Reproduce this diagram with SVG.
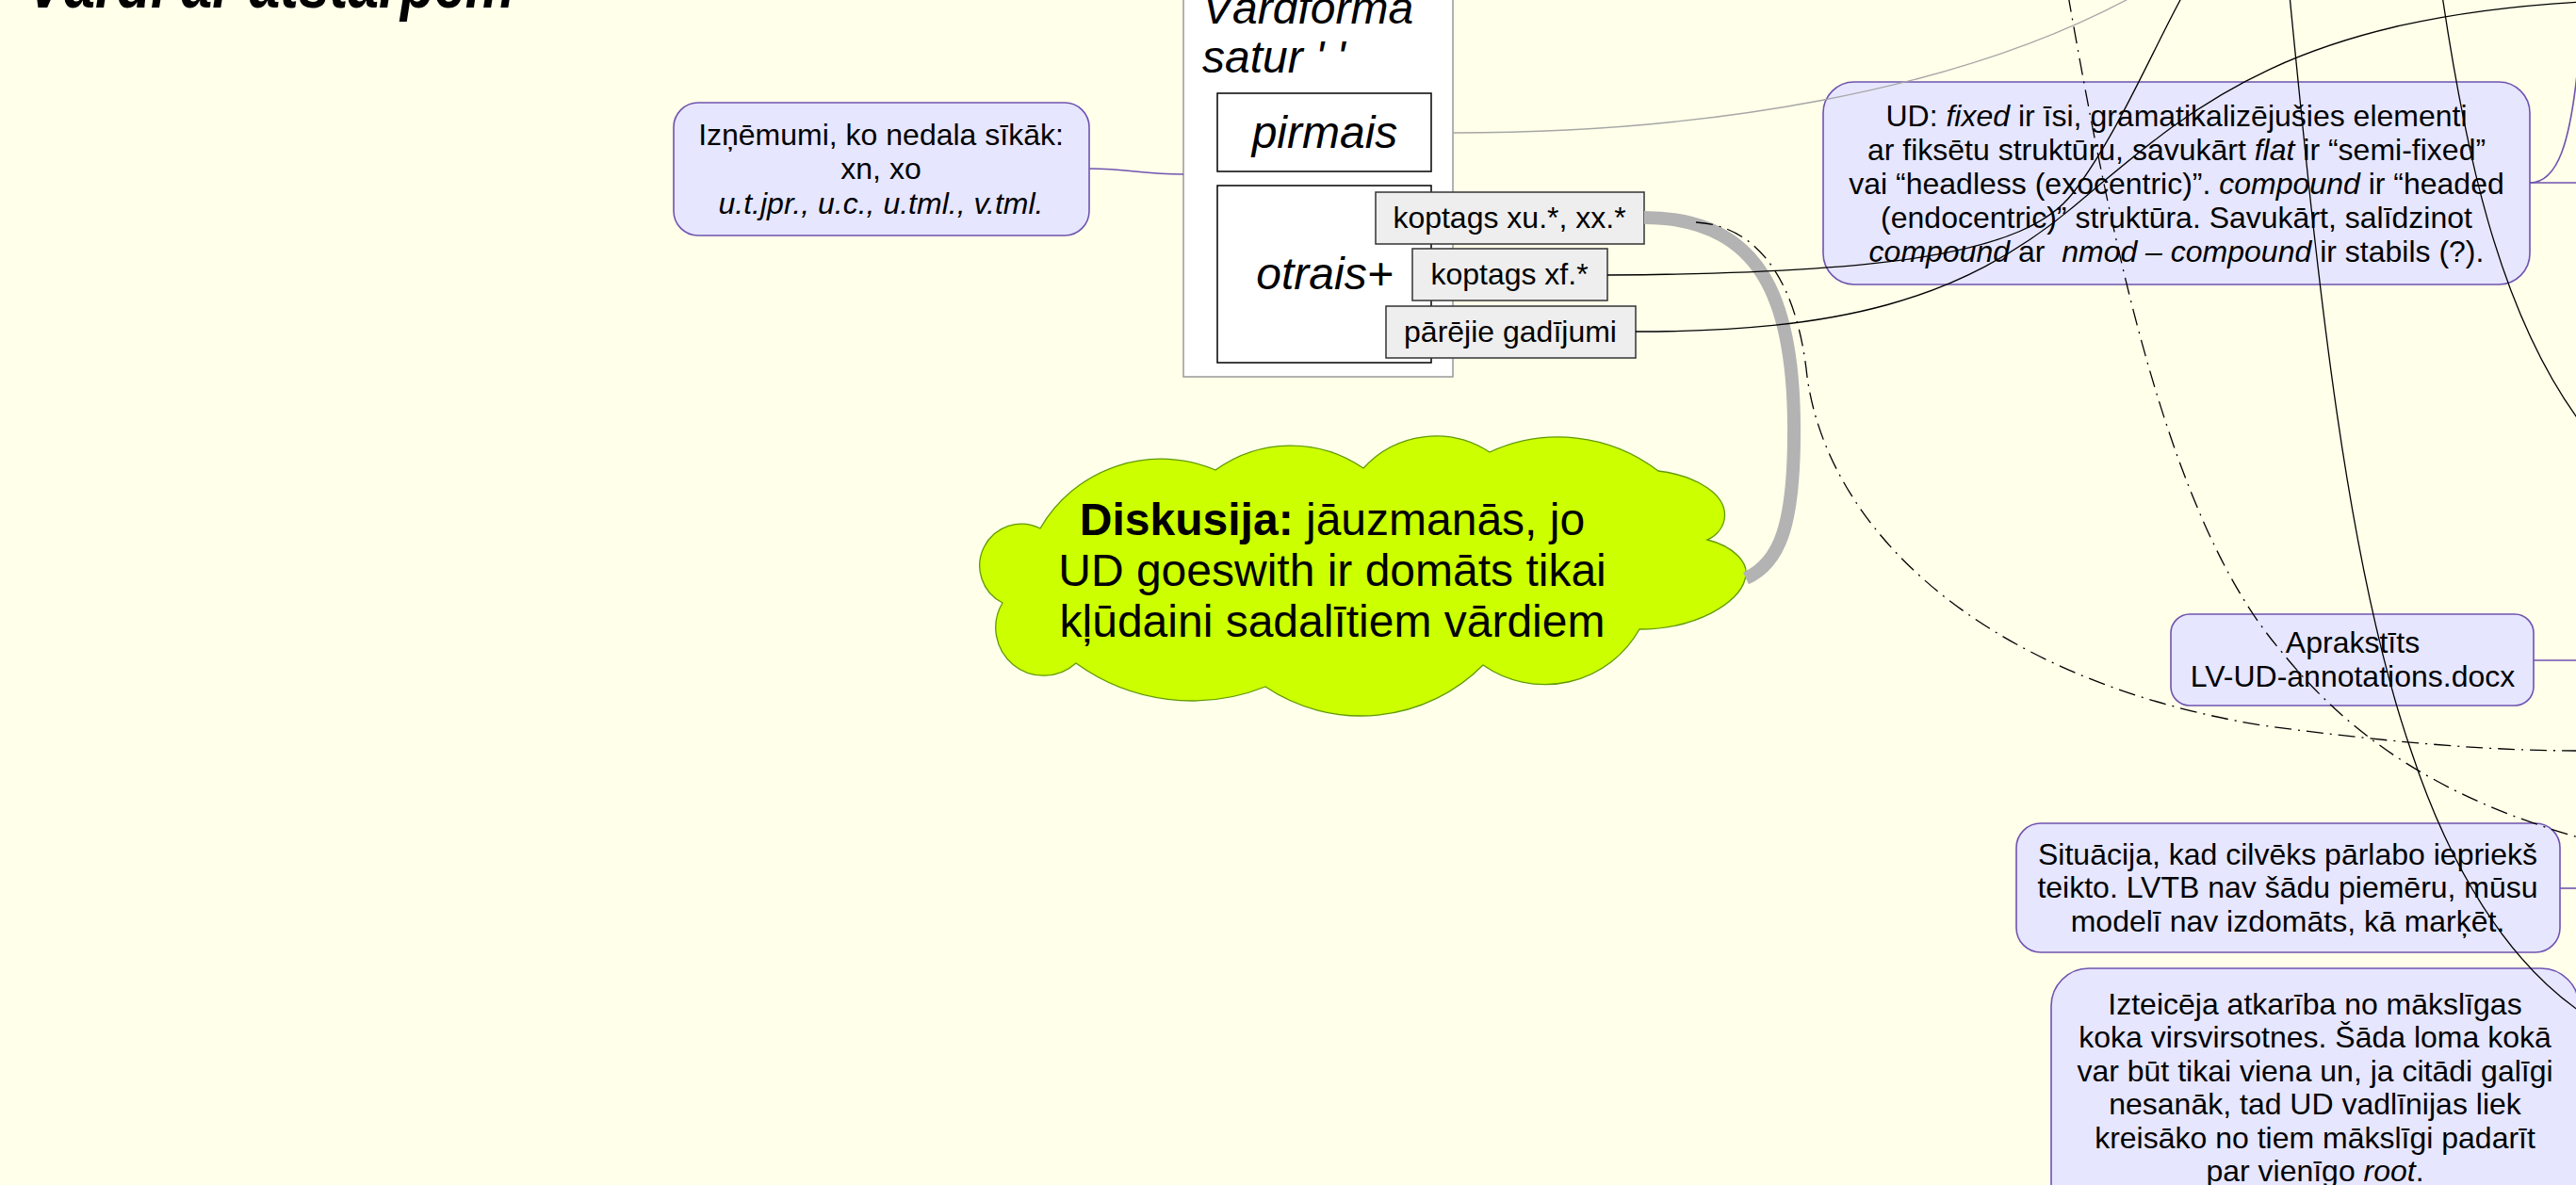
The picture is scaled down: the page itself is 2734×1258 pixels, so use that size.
<svg xmlns="http://www.w3.org/2000/svg" width="2734" height="1258" viewBox="0 0 2734 1258">
<style>
  text { font-family: "Liberation Sans", Arial, sans-serif; fill: #000; }
  .t32 { font-size: 32px; text-anchor: middle; }
  .t48 { font-size: 48px; }
  .it { font-style: italic; }
  .node { fill: #e6e6ff; stroke: #7053b0; stroke-width: 1.6; }
  .tag { fill: #eeeeee; stroke: #333333; stroke-width: 1.5; }
  .wbox { fill: #ffffff; stroke: #000000; stroke-width: 1.5; }
  .conn { fill: none; stroke: #000; stroke-width: 1.3; }
  .purple { fill: none; stroke: #7053b0; stroke-width: 1.6; }
  .dd { stroke-dasharray: 18 7 2 7; }
</style>
<rect x="0" y="0" width="2734" height="1258" fill="#ffffea"/>

<g id="title">
  <text x="29" y="8" font-size="72" font-style="italic" font-weight="bold" textLength="517" lengthAdjust="spacingAndGlyphs">Vārdi ar atstarpēm</text>
</g>

<g id="node-izņēmumi">
  <rect class="node" x="715" y="109" width="441" height="141" rx="26"/>
  <text class="t32" x="935" y="154">Izņēmumi, ko nedala sīkāk:</text>
  <text class="t32" x="935" y="190">xn, xo</text>
  <text class="t32 it" x="935" y="227">u.t.jpr., u.c., u.tml., v.tml.</text>
</g>

<g id="node-vardforma">
  <rect x="1256" y="-120" width="286" height="520" fill="#ffffff" stroke="#999999" stroke-width="1.5"/>
  <text class="t48 it" x="1276" y="25">Vārdforma</text>
  <text class="t48 it" x="1276" y="77" style="white-space:pre">satur ' '</text>
</g>

<g id="node-pirmais">
  <rect class="wbox" x="1292" y="99" width="227" height="83"/>
  <text class="t48 it" x="1406" y="157" text-anchor="middle">pirmais</text>
</g>

<g id="node-otrais">
  <rect class="wbox" x="1292" y="197" width="227" height="188"/>
  <text class="t48 it" x="1406" y="307" text-anchor="middle">otrais+</text>
</g>

<g id="node-xu">
  <rect class="tag" x="1460" y="204" width="285" height="55"/>
  <text class="t32" x="1602" y="242">koptags xu.*, xx.*</text>
</g>

<g id="node-xf">
  <rect class="tag" x="1499" y="264" width="207" height="55"/>
  <text class="t32" x="1602" y="302">koptags xf.*</text>
</g>

<g id="node-parejie">
  <rect class="tag" x="1471" y="325" width="265" height="55"/>
  <text class="t32" x="1603" y="363">pārējie gadījumi</text>
</g>

<g id="node-ud">
  <rect class="node" x="1935" y="87" width="750" height="215" rx="33"/>
  <text class="t32" x="2310" y="134">UD: <tspan class="it">fixed</tspan> ir īsi, gramatikalizējušies elementi</text>
  <text class="t32" x="2310" y="170">ar fiksētu struktūru, savukārt <tspan class="it">flat</tspan> ir “semi-fixed”</text>
  <text class="t32" x="2310" y="206">vai “headless (exocentric)”. <tspan class="it">compound</tspan> ir “headed</text>
  <text class="t32" x="2310" y="242">(endocentric)” struktūra. Savukārt, salīdzinot</text>
  <text class="t32" x="2310" y="278" style="white-space:pre"><tspan class="it">compound</tspan> ar  <tspan class="it">nmod – compound</tspan> ir stabils (?).</text>
</g>

<g id="node-diskusija">
  <path d="M1064,640 A44,44 0 0 1 1104,561 A148,148 0 0 1 1290,499 A136,136 0 0 1 1447,497 A104,104 0 0 1 1581,480 A174,174 0 0 1 1760,500 C1800,505 1835,525 1830,552 C1828,562 1820,570 1812,573 C1840,580 1858,598 1852,615 C1846,640 1800,668 1740,668 A115,115 0 0 1 1574,706 A182,182 0 0 1 1343,729 A210,210 0 0 1 1142,704 A51,51 0 0 1 1064,640 Z" fill="#ccff00" stroke="#5f9a00" stroke-width="1.3"/>
  <text class="t48" x="1414" y="568" text-anchor="middle"><tspan font-weight="bold">Diskusija:</tspan> jāuzmanās, jo</text>
  <text class="t48" x="1414" y="622" text-anchor="middle">UD goeswith ir domāts tikai</text>
  <text class="t48" x="1414" y="676" text-anchor="middle">kļūdaini sadalītiem vārdiem</text>
</g>

<g id="node-apraksts">
  <rect class="node" x="2304" y="652" width="385" height="97" rx="20"/>
  <text class="t32" x="2497" y="693">Aprakstīts</text>
  <text class="t32" x="2497" y="729">LV-UD-annotations.docx</text>
</g>

<g id="node-situacija">
  <rect class="node" x="2140" y="874" width="577" height="137" rx="26"/>
  <text class="t32" x="2428" y="918">Situācija, kad cilvēks pārlabo iepriekš</text>
  <text class="t32" x="2428" y="953">teikto. LVTB nav šādu piemēru, mūsu</text>
  <text class="t32" x="2428" y="989">modelī nav izdomāts, kā marķēt.</text>
</g>

<g id="node-izteiceja">
  <rect class="node" x="2177" y="1028" width="560" height="280" rx="40"/>
  <text class="t32" x="2457" y="1077">Izteicēja atkarība no mākslīgas</text>
  <text class="t32" x="2457" y="1112">koka virsvirsotnes. Šāda loma kokā</text>
  <text class="t32" x="2457" y="1148">var būt tikai viena un, ja citādi galīgi</text>
  <text class="t32" x="2457" y="1183">nesanāk, tad UD vadlīnijas liek</text>
  <text class="t32" x="2457" y="1219">kreisāko no tiem mākslīgi padarīt</text>
  <text class="t32" x="2457" y="1254">par vienīgo <tspan class="it">root</tspan>.</text>
</g>

<g id="connectors">
  <path class="purple" d="M1156,179 C1200,179 1210,185 1256,185"/>
  <path class="purple" d="M2685,194 L2740,194"/>
  <path class="purple" d="M2685,194 C2715,194 2728,150 2736,70"/>
  <path class="purple" d="M2689,701 L2740,701"/>
  <path class="purple" d="M2717,943 L2740,943"/>
  <path fill="none" stroke="#a6a6a6" stroke-width="1.3" d="M1542,141 C1800,141 2080,100 2275,-10"/>
  <path fill="none" stroke="#b3b3b3" stroke-width="14" d="M1745,231 C1870,231 1903,320 1904,450 C1905,560 1888,598 1853,614"/>
  <path class="conn dd" d="M1800,236 C1870,240 1908,305 1918,400 C1940,560 2100,720 2400,770 C2550,790 2650,797 2740,797"/>
  <path class="conn dd" d="M2195,-5 C2240,250 2300,550 2420,690 C2500,790 2600,850 2740,890"/>
  <path class="conn" d="M1706,292 C2000,290 2150,270 2200,205 C2250,140 2290,40 2325,-20"/>
  <path class="conn" d="M1736,352 C1950,352 2080,320 2200,220 C2320,120 2420,20 2740,2"/>
  <path class="conn" d="M2430,-5 C2460,300 2490,600 2560,800 C2600,920 2660,1020 2740,1075"/>
  <path class="conn" d="M2592,-5 C2615,150 2650,330 2740,450"/>
</g>
</svg>
